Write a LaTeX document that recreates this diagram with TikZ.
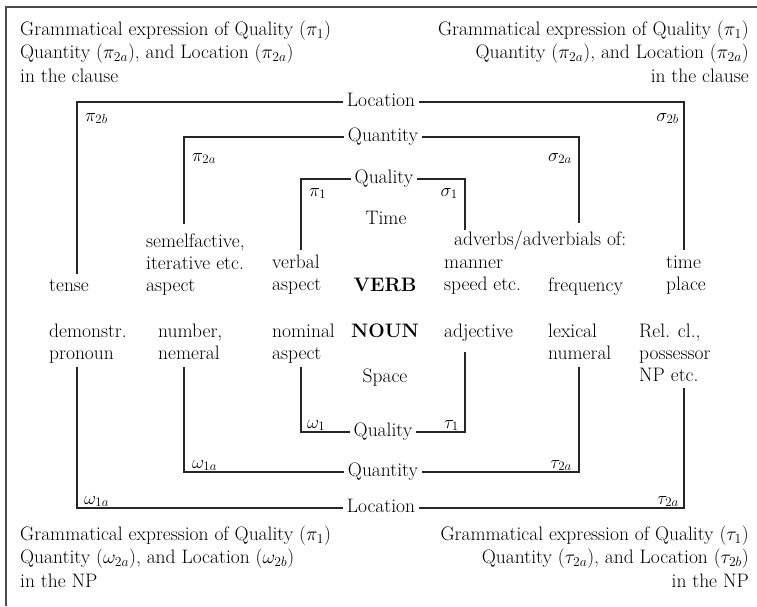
\RequirePackage{fix-cm}
\documentclass[tikz,border=0pt]{standalone}
\begin{document}
\begin{tikzpicture}[x=1pt,y=-1pt,
  txt/.style={inner sep=0pt, font=\fontsize{19.5}{23.5}\selectfont},
  mid/.style={inner sep=0pt, font=\fontsize{19.5}{22}\selectfont, align=left},
  barlabel/.style={inner xsep=4pt, inner ysep=0pt, font=\fontsize{19.5}{22}\selectfont},
  greek/.style={inner sep=0pt, font=\fontsize{18.5}{22}\selectfont},
  bar/.style={line width=1.1pt, black!85},
  frame/.style={line width=2pt, black!70}]
\newcommand{\topstrut}{\rule{0pt}{14.5pt}}
\useasboundingbox (0,0) rectangle (757,606);
\draw[frame] (6,606) -- (6,7) -- (757,7);

% corner texts
\node[txt, anchor=north west, align=left] (tl) at (20,20.5)
  {\topstrut Grammatical expression of Quality ($\pi_1$)\\Quantity ($\pi_{2a}$), and Location ($\pi_{2a}$)\\in the clause};
\node[txt, anchor=north east, align=right] (tr) at (749,20.5)
  {\topstrut Grammatical expression of Quality ($\pi_1$)\\Quantity ($\pi_{2a}$), and Location ($\pi_{2a}$)\\in the clause};
\node[txt, anchor=north west, align=left] (bl) at (20,525.5)
  {\topstrut Grammatical expression of Quality ($\pi_1$)\\Quantity ($\omega_{2a}$), and Location ($\omega_{2b}$)\\in the NP};
\node[txt, anchor=north east, align=right] (br) at (749,525.5)
  {\topstrut Grammatical expression of Quality ($\tau_1$)\\Quantity ($\tau_{2a}$), and Location ($\tau_{2b}$)\\in the NP};

% bar labels
\node[barlabel, anchor=base] (locT) at (381,106.5) {Location};
\node[barlabel, anchor=base] (quaT) at (383,141.5) {Quantity};
\node[barlabel, anchor=base] (qlT) at (384,183.5) {Quality};
\node[barlabel, anchor=base] (qlB) at (383,436.5) {Quality};
\node[barlabel, anchor=base] (quaB) at (383,476.5) {Quantity};
\node[barlabel, anchor=base] (locB) at (381,512.5) {Location};

% corner coordinates
\coordinate (a1) at (77,274);  \coordinate (a2) at (77,102);
\coordinate (a3) at (684,102); \coordinate (a4) at (684,250);
\coordinate (b1) at (184,224); \coordinate (b2) at (184,137);
\coordinate (b3) at (579,137); \coordinate (b4) at (579,223);
\coordinate (c1) at (301,250); \coordinate (c2) at (301,179);
\coordinate (c3) at (465,179); \coordinate (c4) at (465,230);
\coordinate (d1) at (301,367); \coordinate (d2) at (301,432);
\coordinate (d3) at (465,432); \coordinate (d4) at (465,352);
\coordinate (e1) at (184,367); \coordinate (e2) at (184,472);
\coordinate (e3) at (579,472); \coordinate (e4) at (579,367);
\coordinate (f1) at (77,367);  \coordinate (f2) at (77,508);
\coordinate (f3) at (684,508); \coordinate (f4) at (684,388);

\draw[bar] (a1) -- (a2) -- (a2 -| locT.west);
\draw[bar] (locT.east |- a3) -- (a3) -- (a4);
\draw[bar] (b1) -- (b2) -- (b2 -| quaT.west);
\draw[bar] (quaT.east |- b3) -- (b3) -- (b4);
\draw[bar] (c1) -- (c2) -- (c2 -| qlT.west);
\draw[bar] (qlT.east |- c3) -- (c3) -- (c4);
\draw[bar] (d1) -- (d2) -- (d2 -| qlB.west);
\draw[bar] (qlB.east |- d3) -- (d3) -- (d4);
\draw[bar] (e1) -- (e2) -- (e2 -| quaB.west);
\draw[bar] (quaB.east |- e3) -- (e3) -- (e4);
\draw[bar] (f1) -- (f2) -- (f2 -| locB.west);
\draw[bar] (locB.east |- f3) -- (f3) -- (f4);

% greek labels
\node[greek, anchor=north west] (p2b) at (85,113) {$\pi_{2b}$};
\node[greek, anchor=north east] (s2b) at (679,113) {$\sigma_{2b}$};
\node[greek, anchor=north west] (p2a) at (192,153) {$\pi_{2a}$};
\node[greek, anchor=north east] (s2a) at (572,153) {$\sigma_{2a}$};
\node[greek, anchor=north west] (p1) at (309,188) {$\pi_1$};
\node[greek, anchor=north east] (s1) at (458,188) {$\sigma_1$};
\node[greek, anchor=south west] (w1) at (307,431) {$\omega_1$};
\node[greek, anchor=south east] (t1) at (459,431) {$\tau_1$};
\node[greek, anchor=south west] (w1a) at (192,471) {$\omega_{1a}$};
\node[greek, anchor=south east] (t2a) at (572,471) {$\tau_{2a}$};
\node[greek, anchor=south west] (w1aL) at (84,507) {$\omega_{1a}$};
\node[greek, anchor=south east] (t2aL) at (679,507) {$\tau_{2a}$};

% middle texts
\node[txt, anchor=base] (time) at (386,224) {Time};
\node[mid, anchor=north west] (sem) at (146,232.5) {\topstrut semelfactive,\\iterative etc.\\aspect};
\node[txt, anchor=base west] (tense) at (49,291) {tense};
\node[mid, anchor=north west] (verbal) at (272,253.5) {\topstrut verbal\\aspect};
\node[txt, anchor=base] (verb) at (385,291) {\bfseries VERB};
\node[txt, anchor=base west] (adv) at (454,245) {adverbs/adverbials of:};
\node[mid, anchor=north west] (manner) at (444,253.5) {\topstrut manner\\speed etc.};
\node[txt, anchor=base west] (freq) at (548,291) {frequency};
\node[mid, anchor=north west] (tp) at (666,253.5) {\topstrut time\\place};
\node[mid, anchor=north west] (dem) at (49,322.5) {\topstrut demonstr.\\pronoun};
\node[mid, anchor=north west] (num) at (158,322.5) {\topstrut number,\\nemeral};
\node[mid, anchor=north west] (nom) at (272,322.5) {\topstrut nominal\\aspect};
\node[txt, anchor=base] (noun) at (385,337) {\bfseries NOUN};
\node[txt, anchor=base west] (adj) at (444,337) {adjective};
\node[mid, anchor=north west] (lex) at (548,322.5) {\topstrut lexical\\numeral};
\node[mid, anchor=north west] (rel) at (639,322.5) {\topstrut Rel. cl.,\\possessor\\NP etc.};
\node[txt, anchor=base] (space) at (385,382) {Space};
\end{tikzpicture}
\end{document}
